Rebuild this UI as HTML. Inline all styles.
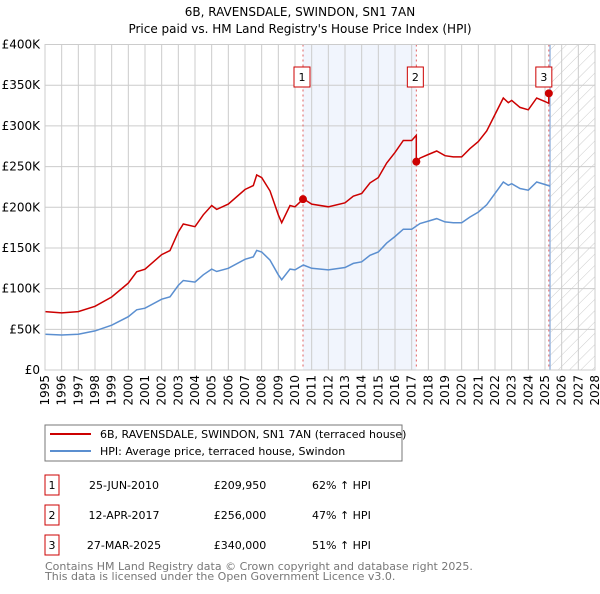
<!DOCTYPE html>
<html><head><meta charset="utf-8"><style>
body{margin:0;background:#fff;font-family:"DejaVu Sans","Liberation Sans",sans-serif}
svg text{font-family:"DejaVu Sans","Liberation Sans",sans-serif}
</style></head><body>
<svg id="c" width="600" height="590" viewBox="0 0 600 590">
<defs><pattern id="hatch" width="8" height="8" patternUnits="userSpaceOnUse" patternTransform="rotate(45)"><line x1="0" y1="0" x2="0" y2="8" stroke="#ccc" stroke-width="1"/></pattern></defs>
<text x="300" y="16" text-anchor="middle" font-size="12">6B, RAVENSDALE, SWINDON, SN1 7AN</text>
<text x="300" y="33" text-anchor="middle" font-size="12">Price paid vs. HM Land Registry's House Price Index (HPI)</text>
<g id="plot"></g>
<g>
<rect x="45" y="425" width="357" height="36" fill="#fff" stroke="#777"/>
<line x1="50" y1="434" x2="91" y2="434" stroke="#cc0000" stroke-width="2"/>
<text x="100" y="438" font-size="11">6B, RAVENSDALE, SWINDON, SN1 7AN (terraced house)</text>
<line x1="50" y1="451" x2="91" y2="451" stroke="#5b8fd0" stroke-width="2"/>
<text x="100" y="455" font-size="11">HPI: Average price, terraced house, Swindon</text>
</g>
<g id="table" font-size="11"></g>
<text x="45" y="570" font-size="11" fill="#777">Contains HM Land Registry data © Crown copyright and database right 2025.</text>
<text x="45" y="580" font-size="11" fill="#777">This data is licensed under the Open Government Licence v3.0.</text>
</svg>
<script>
const hpiYears=[1995,1996,1997,1998,1999,2000,2000.5,2001,2002,2002.5,2003,2003.3,2004,2004.5,2005,2005.3,2006,2007,2007.5,2007.7,2008,2008.5,2009,2009.2,2009.7,2010,2010.5,2011,2012,2013,2013.5,2014,2014.5,2015,2015.5,2016,2016.5,2017,2017.5,2018,2018.5,2019,2019.5,2020,2020.5,2021,2021.5,2022,2022.5,2022.8,2023,2023.5,2024,2024.5,2025,2025.3];
const hpiValues=[44,43,44,48,55,65.5,74,76,87,90,104,110,108,117,124,121,125,136,139,147,145,135,117,111,124,123,129,125,123,126,131,133,141,145,156,164,173,173,180,183,186,182,181,181,188,194,203,217,231,227,229,223,221,231,228,226];
const saleYears=[2010.48,2017.28,2025.23];
const salePrices=[209950,256000,340000];
const saleLabels=["1","2","3"];
const saleDates=["25-JUN-2010","12-APR-2017","27-MAR-2025"];
const salePriceText=["£209,950","£256,000","£340,000"];
const salePct=["62% ↑ HPI","47% ↑ HPI","51% ↑ HPI"];
const yTicks=[0,50,100,150,200,250,300,350,400];
const yTickLabels=["£0","£50K","£100K","£150K","£200K","£250K","£300K","£350K","£400K"];
const xTicks=[1995,1996,1997,1998,1999,2000,2001,2002,2003,2004,2005,2006,2007,2008,2009,2010,2011,2012,2013,2014,2015,2016,2017,2018,2019,2020,2021,2022,2023,2024,2025,2026,2027,2028];

const X0=45,X1=595,Y0=370,Y1=44.5;
const xs=y=>X0+(y-1995)/(2028-1995)*(X1-X0);
const ys=v=>Y0-v/400*(Y0-Y1);
const NS="http://www.w3.org/2000/svg";
const plot=document.getElementById('plot');
function mk(tag,attrs,parent){const e=document.createElementNS(NS,tag);for(const k in attrs)e.setAttribute(k,attrs[k]);(parent||plot).appendChild(e);return e;}
function hpiAt(t){for(let i=0;i<hpiYears.length-1;i++){if(t<=hpiYears[i+1]){const f=(t-hpiYears[i])/(hpiYears[i+1]-hpiYears[i]);return hpiValues[i]+f*(hpiValues[i+1]-hpiValues[i]);}}return hpiValues[hpiValues.length-1];}

let e=mk('rect',{x:X0,y:Y1,width:X1-X0,height:Y0-Y1,fill:'#fff'});


e=mk('rect',{x:xs(saleYears[0]),y:Y1,width:xs(saleYears[1])-xs(saleYears[0]),height:Y0-Y1,fill:'#eef3fc',opacity:0.8});


const hx=xs(2025.3);
e=mk('rect',{x:hx,y:Y1,width:X1-hx,height:Y0-Y1,fill:'url(#hatch)'});


xTicks.forEach(t=>{
 e=mk('line',{x1:xs(t),x2:xs(t),y1:Y1,y2:Y0,stroke:'#ccc','stroke-width':1});
 
 
 e=mk('text',{x:0,y:0,'font-size':12,'text-anchor':'end',transform:`translate(${xs(t)+4},${Y0+5}) rotate(-90)`});
 e.textContent=t;
 
 
});
yTicks.forEach((t,i)=>{
 e=mk('line',{x1:X0,x2:X1,y1:ys(t),y2:ys(t),stroke:'#ccc','stroke-width':1});
 
 
 e=mk('text',{x:40,y:ys(t)+4,'font-size':12,'text-anchor':'end'});
 e.textContent=yTickLabels[i];
 
 
});
e=mk('line',{x1:hx,x2:hx,y1:Y1,y2:Y0,stroke:'#9bb8e0','stroke-width':1.5});


saleYears.forEach((s,i)=>{
 e=mk('line',{x1:xs(s),x2:xs(s),y1:Y1,y2:Y0,stroke:'#e06060','stroke-width':1,'stroke-dasharray':'2,3'});
 
 
});
// HPI line
let d=hpiYears.map((t,i)=>(i?'L':'M')+xs(t).toFixed(1)+','+ys(hpiValues[i]).toFixed(1)).join('');
e=mk('path',{d:d,fill:'none',stroke:'#5b8fd0','stroke-width':1.5});


// Price line: HPI scaled by ratio at most recent sale (before first sale uses first sale ratio)
const ratios=saleYears.map((s,i)=>salePrices[i]/1000/hpiAt(s));
function ratioAt(t){let r=ratios[0];saleYears.forEach((s,i)=>{if(t>=s)r=ratios[i];});return r;}
let pts=[];
hpiYears.forEach((t,i)=>{
 saleYears.forEach((s,j)=>{const prev=i?hpiYears[i-1]:-1;if(s>prev&&s<=t){if(j>0)pts.push([s-0.001,hpiAt(s)*ratios[j-1]]);pts.push([s,salePrices[j]/1000]);}});
 if(t<=2025.3)pts.push([t,hpiValues[i]*ratioAt(t)]);
});
d=pts.map((p,i)=>(i?'L':'M')+xs(p[0]).toFixed(1)+','+ys(p[1]).toFixed(1)).join('');
e=mk('path',{d:d,fill:'none',stroke:'#cc0000','stroke-width':1.5});


saleYears.forEach((s,i)=>{
 e=mk('circle',{cx:xs(s),cy:ys(salePrices[i]/1000),r:4,fill:'#cc0000'});
 
 
 const bx=xs(s)-8-(i==2?4:0);
 e=mk('rect',{x:bx-1,y:67,width:16,height:20,fill:'#fff',stroke:'#cc0000'});
 
 
 e=mk('text',{x:bx+7,y:81,'font-size':11,'text-anchor':'middle'});
 e.textContent=saleLabels[i];
 
 
});
e=mk('rect',{x:X0,y:Y1,width:X1-X0,height:Y0-Y1,fill:'none',stroke:'#ccc'});


// table
const tb=document.getElementById('table');
saleLabels.forEach((l,i)=>{
 const y=475+i*30;
 e=mk('rect',{x:45,y:y,width:14,height:20,fill:'#fff',stroke:'#cc0000'},tb);
 
 
 e=mk('text',{x:52,y:y+14,'text-anchor':'middle'},tb);e.textContent=l;
 
 
 e=mk('text',{x:124,y:y+14,'text-anchor':'middle'},tb);e.textContent=saleDates[i];
 
 
 e=mk('text',{x:240,y:y+14,'text-anchor':'middle'},tb);e.textContent=salePriceText[i];
 
 
 e=mk('text',{x:312,y:y+14},tb);e.textContent=salePct[i];
 
 
});
</script>
</body></html>
